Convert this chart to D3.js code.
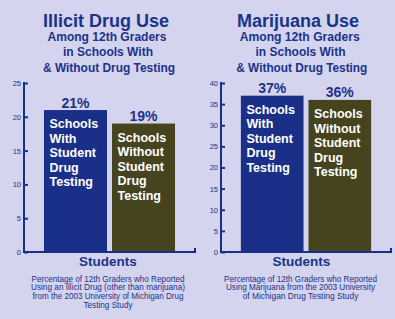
<!DOCTYPE html>
<html><head><meta charset="utf-8">
<script src="https://cdn.jsdelivr.net/npm/d3@7"></script>
<style>
html,body{margin:0;padding:0;background:#D4D4EE;}
svg{display:block;}
text{font-family:"Liberation Sans",Arial,Helvetica,sans-serif;}
</style></head><body>
<svg id="c" width="395" height="319"></svg>
<script>
// ---- data ----
const categories = ["Schools With Student Drug Testing", "Schools Without Student Drug Testing"];
const barLines = [["Schools","With","Student","Drug","Testing"],["Schools","Without","Student","Drug","Testing"]];
const illicitValues = [21, 19];
const marijuanaValues = [37, 36];
const illicitTicks = [0,5,10,15,20,25];
const marijuanaTicks = [0,5,10,15,20,25,30,35,40];
const illicitTitle = ["Illicit Drug Use"];
const marijuanaTitle = ["Marijuana Use"];
const subtitleLines = ["Among 12th Graders","in Schools With","& Without Drug Testing"];
const xAxisLabel = "Students";
const illicitNote = ["Percentage of 12th Graders who Reported","Using an Illicit Drug (other than marijuana)","from the 2003 University of Michigan Drug","Testing Study"];
const marijuanaNote = ["Percentage of 12th Graders who Reported","Using Marijuana from the 2003 University","of Michigan Drug Testing Study"];

const BLUE = "#1A3088", OLIVE = "#45441F", TXT = "#1B3389";
const svg = d3.select("#c");

function panel(o){
  const g = svg.append("g");
  const x = d3.scaleBand().domain(categories).range([o.x0, o.x1]).paddingInner(0.0735).paddingOuter(0.294);
  const y = d3.scaleLinear().domain([0, o.max]).range([252, 83]);
  // titles
  g.append("text").attr("x", o.cx).attr("y", 27).attr("text-anchor","middle")
    .attr("font-size", 18).attr("font-weight","bold").attr("fill", TXT).text(o.title[0]);
  subtitleLines.forEach((s,i)=>{
    g.append("text").attr("x", o.subCx[i]).attr("y", 41 + i*15.3).attr("text-anchor","middle")
      .attr("font-size", 12).attr("font-weight","bold").attr("fill", TXT)
      .attr("textLength", o.subW[i]).attr("lengthAdjust","spacingAndGlyphs").text(s);
  });
  // bars
  const vals = o.values;
  g.selectAll("rect.bar").data(categories).join("rect")
    .attr("x", d=>x(d)).attr("width", x.bandwidth())
    .attr("y", (d,i)=>y(vals[i])).attr("height", (d,i)=>y(0)-y(vals[i]))
    .attr("fill", (d,i)=> i===0?BLUE:OLIVE);
  // value labels
  g.selectAll("text.val").data(categories).join("text")
    .attr("x", d=>x(d)+x.bandwidth()/2).attr("y", (d,i)=>y(vals[i])-2.5)
    .attr("text-anchor","middle").attr("font-size",14).attr("font-weight","bold").attr("fill",TXT)
    .text((d,i)=>vals[i]+"%");
  // inner labels
  categories.forEach((c,i)=>{
    barLines[i].forEach((ln,j)=>{
      g.append("text").attr("x", x(c)+5.5).attr("y", y(vals[i])+18.3+j*14.5)
        .attr("font-size",12.5).attr("font-weight","bold").attr("fill","#fff").text(ln);
    });
  });
  // y axis
  const ax = g.append("g").attr("transform",`translate(${o.x0},0)`)
    .call(d3.axisLeft(y).tickValues(o.ticks).tickSize(-4).tickPadding(3));
  ax.select(".domain").remove();
  ax.selectAll(".tick line").attr("stroke", BLUE).attr("stroke-width",2);
  ax.selectAll(".tick text").attr("fill", TXT).attr("font-size",7.5)
    .attr("font-family","'Liberation Sans',Arial,sans-serif");
  g.append("line").attr("x1",o.x0).attr("x2",o.x0).attr("y1",y(o.max)-1).attr("y2",y(0)+1)
    .attr("stroke",BLUE).attr("stroke-width",2);
  g.append("line").attr("x1",o.x0-1).attr("x2",o.x1+1).attr("y1",y(0)).attr("y2",y(0))
    .attr("stroke",BLUE).attr("stroke-width",2);
  g.append("line").attr("x1",o.x1).attr("x2",o.x1).attr("y1",y(0)-4).attr("y2",y(0))
    .attr("stroke",BLUE).attr("stroke-width",2);
  // x label
  g.append("text").attr("x", o.stCx).attr("y", 266).attr("text-anchor","middle")
    .attr("font-size",13.5).attr("font-weight","bold").attr("fill",TXT).text(xAxisLabel);
  // notes
  o.note.forEach((s,i)=>{
    g.append("text").attr("x", o.noteCx).attr("y", 281.5 + i*8.8).attr("text-anchor","middle")
      .attr("font-size",9).attr("fill",TXT)
      .style("font-family","'Liberation Sans Narrow','Arial Narrow','Liberation Sans',Arial,sans-serif")
      .attr("textLength", o.noteW[i]).attr("lengthAdjust","spacingAndGlyphs").text(s);
  });
}

panel({x0:24, x1:195, max:25, values:illicitValues, ticks:illicitTicks, title:illicitTitle,
  cx:106, subCx:[107,108,109], subW:[119,90,132], stCx:108, noteCx:108,
  note:illicitNote, noteW:[153,154,151,49]});
panel({x0:221, x1:391, max:40, values:marijuanaValues, ticks:marijuanaTicks, title:marijuanaTitle,
  cx:298, subCx:[299.7,300.5,301.8], subW:[120,90,131], stCx:301.3, noteCx:300.5,
  note:marijuanaNote, noteW:[153,149,115.7]});
</script>
</body></html>
